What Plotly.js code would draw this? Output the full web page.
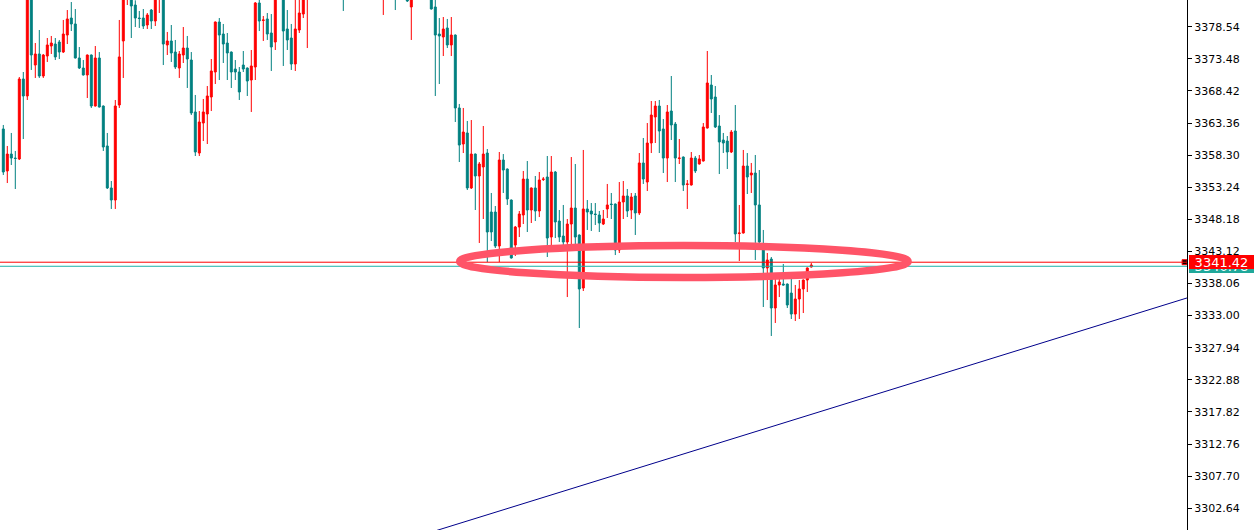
<!DOCTYPE html>
<html>
<head>
<meta charset="utf-8">
<script src="https://cdn.plot.ly/plotly-3.0.1.min.js"></script>
<style>
html,body{margin:0;padding:0;background:#fff;overflow:hidden;}
#chart{width:1256px;height:530px;}
</style>
</head>
<body>
<div id="chart"></div>
<script>
// ---- Data ----
const openP = [3362.42,3355.80,3358.47,3357.84,3357.69,3370.30,3367.62,3384.33,3372.50,3374.24,
3370.77,3373.92,3375.50,3375.81,3376.13,3374.55,3377.23,3379.91,3378.97,3373.61,
3372.03,3370.93,3374.08,3366.04,3373.61,3366.04,3359.74,3353.12,3351.22,3366.20,
3376.29,3384.33,3383.54,3381.96,3379.91,3379.91,3378.81,3381.17,3379.44,3383.54,
3385.11,3375.66,3376.29,3374.55,3372.03,3374.08,3375.18,3373.29,3365.10,3358.63,
3363.36,3364.78,3367.46,3371.40,3379.28,3377.39,3375.97,3374.55,3371.87,3371.40,
3372.50,3372.03,3370.14,3372.19,3382.28,3379.52,3379.76,3377.55,3376.13,3383.54,
3385.90,3378.18,3376.76,3372.66,3378.02,3380.54,3384.01,3385.90,3388.27,3389.84,
3388.74,3390.63,3392.21,3390.32,3387.48,3385.59,3384.01,3386.22,3388.43,3387.16,
3389.84,3391.42,3389.37,3387.48,3388.74,3384.64,3386.85,3388.11,3385.59,3383.70,
3385.27,3384.33,3381.65,3384.33,3386.22,3384.96,3386.53,3384.33,3381.65,3377.39,
3376.92,3378.34,3375.66,3377.23,3365.73,3360.05,3361.79,3353.12,3358.47,3355.01,
3356.43,3358.63,3349.33,3349.33,3343.97,3357.53,3356.11,3351.22,3344.13,3346.97,
3348.86,3354.53,3349.65,3353.12,3349.49,3354.45,3354.85,3345.39,3355.64,3347.91,
3345.55,3344.60,3347.44,3349.96,3345.71,3337.35,3349.81,3349.49,3349.02,3348.86,
3347.44,3349.81,3350.59,3350.59,3343.34,3350.91,3351.86,3349.65,3351.86,3349.18,
3357.06,3354.06,3360.21,3364.31,3366.04,3362.42,3357.84,3365.25,3363.20,3357.77,
3358.00,3353.67,3353.59,3357.84,3356.90,3357.37,3362.57,3369.35,3367.46,3362.89,
3360.68,3360.52,3358.79,3362.10,3345.94,3346.02,3356.58,3355.17,3355.48,3350.44,
3343.34,3340.51,3341.92,3334.20,3337.83,3337.98,3337.98,3336.56,3333.25,3335.62,
3337.20,3338.61,3340.66];
const highP = [3363.05,3359.74,3361.79,3358.95,3370.61,3371.40,3385.11,3385.11,3375.97,3378.02,
3374.24,3376.76,3377.08,3376.76,3376.45,3379.60,3381.17,3382.43,3381.33,3375.34,
3373.29,3374.16,3374.16,3375.50,3374.55,3366.12,3361.79,3354.22,3366.99,3379.60,
3384.64,3387.48,3384.33,3382.70,3381.02,3381.33,3380.70,3381.33,3383.70,3385.90,
3385.90,3377.71,3378.81,3376.45,3374.71,3378.49,3377.08,3374.55,3367.78,3365.25,
3367.15,3369.19,3373.45,3379.36,3379.91,3378.97,3377.55,3374.63,3373.29,3372.19,
3374.71,3372.11,3374.87,3382.43,3383.07,3380.23,3380.70,3380.54,3384.33,3386.69,
3386.22,3381.17,3378.97,3383.07,3383.07,3384.01,3386.69,3389.06,3390.63,3390.95,
3391.58,3393.15,3392.84,3390.95,3388.27,3386.22,3386.85,3389.06,3389.69,3390.63,
3392.52,3391.89,3390.00,3389.69,3389.06,3387.48,3389.06,3388.74,3386.22,3385.90,
3385.90,3384.96,3385.11,3386.85,3387.16,3387.48,3387.16,3385.11,3382.75,3379.91,
3380.07,3379.76,3380.07,3377.31,3366.36,3365.73,3363.68,3363.83,3358.55,3357.21,
3362.89,3359.26,3352.33,3350.28,3358.79,3358.47,3356.19,3351.30,3347.13,3349.49,
3355.80,3357.37,3353.20,3355.01,3355.64,3354.85,3358.16,3358.16,3355.80,3349.65,
3350.44,3348.23,3358.00,3356.90,3345.79,3359.11,3351.22,3350.75,3350.75,3349.49,
3349.65,3353.75,3352.33,3350.67,3354.06,3354.22,3352.96,3352.33,3352.33,3358.63,
3361.00,3363.36,3366.83,3366.83,3366.99,3363.99,3366.20,3370.77,3363.52,3360.84,
3358.08,3354.38,3358.79,3358.16,3358.32,3363.36,3374.71,3370.93,3369.19,3364.62,
3361.79,3361.31,3362.26,3366.20,3350.44,3359.11,3358.63,3357.06,3358.32,3355.95,
3346.50,3342.87,3342.24,3339.72,3339.72,3341.14,3338.06,3338.93,3337.83,3338.61,
3338.69,3340.59,3341.29];
const lowP = [3355.17,3353.90,3356.74,3352.96,3357.53,3360.84,3366.99,3371.72,3370.46,3370.46,
3370.46,3372.98,3374.24,3373.29,3373.45,3374.40,3375.81,3377.86,3373.53,3371.87,
3370.85,3367.30,3365.73,3365.96,3365.80,3358.95,3352.96,3349.81,3349.81,3365.73,
3370.46,3381.96,3376.76,3378.49,3378.34,3378.18,3378.18,3378.18,3378.65,3380.70,
3372.50,3374.08,3372.98,3371.87,3370.46,3372.82,3368.88,3364.62,3358.16,3358.16,
3360.52,3360.05,3365.25,3369.51,3370.14,3372.82,3370.14,3368.88,3370.14,3366.99,
3371.40,3367.62,3365.10,3370.14,3377.86,3376.29,3376.45,3371.56,3374.87,3383.07,
3372.35,3374.87,3371.72,3371.56,3377.55,3379.91,3375.18,3385.11,3387.16,3387.95,
3388.11,3390.00,3389.37,3386.69,3384.64,3381.02,3383.38,3385.59,3386.53,3386.69,
3389.06,3388.74,3386.85,3387.01,3384.01,3380.39,3386.22,3384.96,3381.17,3383.22,
3383.07,3382.43,3376.45,3383.70,3384.33,3384.33,3383.70,3381.25,3367.62,3369.51,
3373.92,3375.18,3373.92,3363.52,3357.21,3358.63,3352.80,3352.96,3349.65,3344.45,
3348.23,3341.45,3344.76,3343.66,3341.45,3352.33,3350.44,3342.00,3342.40,3345.39,
3347.44,3346.18,3347.60,3347.91,3348.54,3354.22,3342.24,3343.82,3345.23,3344.60,
3343.82,3335.93,3343.34,3343.82,3331.05,3336.88,3346.50,3346.34,3347.28,3346.18,
3347.28,3348.39,3348.23,3342.55,3342.87,3348.23,3348.54,3348.23,3345.71,3348.86,
3353.75,3352.64,3358.63,3360.21,3358.63,3355.48,3354.06,3360.68,3354.06,3356.90,
3352.64,3349.81,3353.51,3355.48,3356.82,3357.29,3362.49,3364.94,3362.57,3355.32,
3358.63,3356.11,3358.63,3344.60,3341.61,3345.94,3352.17,3352.33,3341.77,3344.45,
3334.36,3335.46,3329.79,3331.84,3335.93,3337.75,3334.20,3332.47,3332.15,3332.47,
3333.41,3336.72,3340.58];
const closeP = [3355.64,3358.47,3357.84,3357.77,3370.30,3367.62,3384.33,3374.08,3374.24,3370.77,
3374.08,3375.66,3375.97,3373.77,3374.55,3377.39,3379.76,3378.97,3373.61,3372.03,
3370.93,3374.08,3366.04,3373.61,3365.88,3359.58,3353.12,3351.22,3366.04,3373.77,
3384.01,3386.69,3381.80,3379.91,3379.83,3378.65,3380.39,3379.44,3383.22,3385.11,
3375.81,3376.29,3374.40,3372.19,3374.24,3375.18,3373.45,3364.94,3358.79,3363.52,
3365.10,3367.62,3371.56,3379.28,3377.23,3375.81,3374.40,3371.40,3371.40,3368.25,
3371.87,3369.98,3372.35,3382.28,3379.44,3379.60,3377.39,3375.34,3383.54,3385.90,
3377.86,3376.45,3372.66,3378.18,3380.70,3383.54,3385.90,3388.27,3389.84,3388.74,
3390.63,3392.21,3390.32,3387.48,3385.59,3384.01,3386.22,3388.43,3387.16,3389.84,
3391.42,3389.37,3387.48,3388.74,3384.64,3386.85,3388.11,3385.59,3383.70,3385.27,
3383.38,3382.59,3384.33,3386.22,3384.96,3386.53,3384.33,3381.33,3377.23,3377.08,
3378.18,3375.66,3377.23,3365.73,3359.89,3361.94,3353.12,3358.47,3355.01,3356.90,
3358.47,3346.18,3346.18,3343.97,3357.53,3355.95,3351.38,3342.08,3346.97,3349.02,
3354.53,3349.65,3353.12,3349.49,3354.38,3354.53,3345.23,3355.64,3347.76,3345.39,
3344.60,3347.44,3349.96,3345.39,3337.20,3349.81,3349.33,3349.02,3348.94,3347.60,
3348.23,3350.44,3350.51,3343.34,3350.91,3351.86,3349.49,3351.70,3349.18,3357.06,
3354.53,3360.21,3364.62,3366.04,3362.10,3357.84,3365.10,3363.05,3357.84,3357.84,
3353.59,3353.75,3357.84,3355.80,3357.69,3362.73,3369.67,3367.15,3362.73,3360.37,
3360.21,3358.79,3361.94,3345.87,3346.02,3356.58,3354.85,3355.48,3350.44,3344.60,
3340.51,3341.77,3334.20,3337.83,3338.30,3337.83,3334.67,3333.25,3335.62,3337.20,
3338.61,3340.51,3340.98];
const barIndex = openP.map((_, i) => i);

// axis tick labels (right price scale)
const priceTicks = [3302.64,3307.70,3312.76,3317.82,3322.88,3327.94,3333.00,3338.06,
3343.12,3348.18,3353.24,3358.30,3363.36,3368.42,3373.48,3378.54];
const priceRange = [3299.21, 3382.75];
const barRange = [-0.825, 295.925];

// horizontal price lines
const askPrice = 3341.42;
const bidPrice = 3340.78;

// trend line (two anchor points in bar index / price)
const trendX = [100, 300];
const trendY = [3297.51, 3336.58];

// highlighted zone (ellipse bounds, bar index / price)
const zoneX = [114.1, 226.2];
const zoneY = [3339.01, 3344.05];

const FONT = 'DejaVu Sans, sans-serif';

const traces = [
  {
    type: 'candlestick',
    x: barIndex, open: openP, high: highP, low: lowP, close: closeP,
    increasing: {line: {color: '#ff0000', width: 1}, fillcolor: '#ff0000'},
    decreasing: {line: {color: '#008080', width: 1}, fillcolor: '#008080'},
    whiskerwidth: 0,
    hoverinfo: 'skip',
    showlegend: false
  },
  {
    type: 'scatter', mode: 'lines',
    x: trendX, y: trendY,
    line: {color: '#00008b', width: 1},
    hoverinfo: 'skip', showlegend: false
  },
  {
    type: 'scatter', mode: 'markers',
    x: [barRange[1] - 0.6], y: [askPrice],
    marker: {symbol: 'square', size: 5, color: '#000000', line: {color: '#ff0000', width: 1}},
    cliponaxis: false, hoverinfo: 'skip', showlegend: false
  }
];

const layout = {
  width: 1256, height: 530,
  margin: {l: 0, r: 69, t: 0, b: 0, pad: 0},
  paper_bgcolor: '#ffffff', plot_bgcolor: '#ffffff',
  showlegend: false,
  xaxis: {
    range: barRange, visible: false, fixedrange: true,
    rangeslider: {visible: false}, showgrid: false, zeroline: false
  },
  yaxis: {
    range: priceRange, side: 'right', fixedrange: true,
    showgrid: false, zeroline: false,
    showline: true, linecolor: '#000000', linewidth: 1,
    ticks: 'outside', ticklen: 4, tickwidth: 1, tickcolor: '#000000',
    tickvals: priceTicks, ticktext: priceTicks.map(v => v.toFixed(2)),
    tickfont: {family: FONT, size: 11, color: '#000000'}
  },
  shapes: [
    {type: 'line', xref: 'paper', x0: 0, x1: 1, yref: 'y', y0: bidPrice, y1: bidPrice,
     line: {color: '#20b2aa', width: 1}, layer: 'above'},
    {type: 'line', xref: 'paper', x0: 0, x1: 1, yref: 'y', y0: askPrice, y1: askPrice,
     line: {color: '#ff0000', width: 1}, layer: 'above'},
    {type: 'circle', xref: 'x', yref: 'y',
     x0: zoneX[0], x1: zoneX[1], y0: zoneY[0], y1: zoneY[1],
     line: {color: '#ff5468', width: 7.5}, fillcolor: 'rgba(0,0,0,0)', layer: 'above'}
  ],
  annotations: [
    {xref: 'paper', x: 1, xanchor: 'left', xshift: 2, yref: 'y', y: bidPrice, yanchor: 'middle',
     text: bidPrice.toFixed(2), showarrow: false, bgcolor: '#20a89a', borderwidth: 0, borderpad: 0,
     width: 65, height: 14, align: 'center', font: {family: FONT, size: 13, color: '#ffffff'}},
    {xref: 'paper', x: 1, xanchor: 'left', xshift: 2, yref: 'y', y: askPrice, yanchor: 'middle',
     text: askPrice.toFixed(2), showarrow: false, bgcolor: '#ff0000', borderwidth: 0, borderpad: 0,
     width: 65, height: 14, align: 'center', font: {family: FONT, size: 13, color: '#ffffff'}}
  ]
};

Plotly.newPlot('chart', traces, layout, {staticPlot: true, displayModeBar: false});
</script>
</body>
</html>
